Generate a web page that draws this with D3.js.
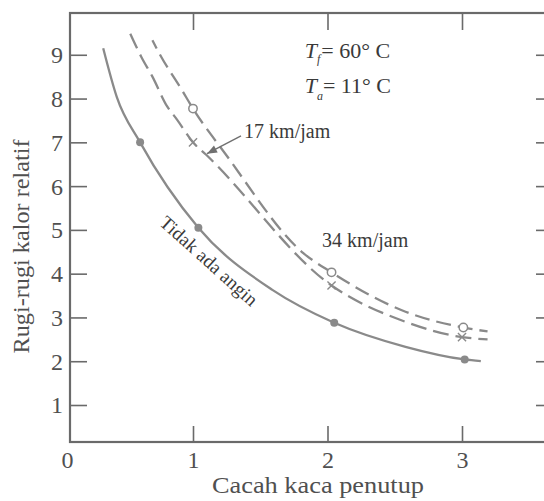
<!DOCTYPE html>
<html>
<head>
<meta charset="utf-8">
<script src="https://cdn.jsdelivr.net/npm/d3@7"></script>
<style>
  html, body { margin: 0; padding: 0; background: #ffffff; }
  svg { display: block; }
  text { font-family: "Liberation Serif", "Times New Roman", serif; }
</style>
</head>
<body>
<svg id="chart" width="544" height="501"></svg>
<script>
// ---- data ----
const xTicks = [0, 1, 2, 3];
const yTicks = [1, 2, 3, 4, 5, 6, 7, 8, 9];

// "Tidak ada angin" (no wind) - solid line, filled dots
const noWindX = [0.27, 0.38, 0.57, 1.04, 1.59, 2.05, 2.58, 3.02, 3.14];
const noWindY = [9.15, 8.04, 7.0, 5.05, 3.63, 2.88, 2.33, 2.04, 2.0];
const noWindDotsX = [0.57, 1.04, 2.05, 3.02];
const noWindDotsY = [7.0, 5.05, 2.88, 2.04];

// 17 km/jam - dashed, x marks
const wind17X = [0.49, 0.58, 0.67, 0.79, 0.87, 1.0, 1.10, 2.03, 2.58, 3.0, 3.19];
const wind17Y = [9.48, 8.95, 8.5, 7.82, 7.52, 7.0, 6.71, 3.73, 2.9, 2.55, 2.5];
const wind17MarksX = [1.0, 2.03, 3.0];
const wind17MarksY = [7.0, 3.73, 2.55];

// 34 km/jam - dashed, open circles
const wind34X = [0.67, 0.74, 0.90, 1.0, 1.24, 1.82, 2.03, 2.58, 3.01, 3.19];
const wind34Y = [9.33, 8.96, 8.24, 7.77, 6.74, 4.47, 4.03, 3.13, 2.77, 2.68];
const wind34MarksX = [1.0, 2.03, 3.01];
const wind34MarksY = [7.77, 4.03, 2.77];

(function () {
// ---- layout ----
const svg = d3.select("#chart");
const mLeft = 70, mRight = 553, mTop = 13, mBottom = 442;
const x = d3.scaleLinear().domain([0, 1, 3]).range([mLeft, 193, 462]);
const y = d3.scaleLinear().domain([0, 1, 10]).range([mBottom, 405, 11]);

const axisColor = "#6a6a6a";
const curveColor = "#8a8a8a";
const textColor = "#3a3a3a";
const labelColor = "#505050";
const serif = "'Liberation Serif', 'Times New Roman', serif";

// frame
svg.append("rect")
  .attr("x", mLeft).attr("y", mTop)
  .attr("width", mRight - mLeft).attr("height", mBottom - mTop)
  .attr("fill", "none").attr("stroke", axisColor).attr("stroke-width", 2.2);

// left axis with inward ticks
const gLeft = svg.append("g").attr("transform", `translate(${mLeft},0)`)
  .call(d3.axisLeft(y).tickValues(yTicks).tickSize(-17).tickPadding(7).tickFormat(d3.format("d")));
// bottom axis
const gBottom = svg.append("g").attr("transform", `translate(0,${mBottom})`)
  .call(d3.axisBottom(x).tickValues(xTicks).tickSize(-16).tickPadding(10).tickFormat(d3.format("d")));
// top ticks
const gTop = svg.append("g").attr("transform", `translate(0,${mTop})`)
  .call(d3.axisTop(x).tickValues(xTicks.filter(d => d > 0)).tickSize(-17).tickFormat(""));
// right ticks
const gRight = svg.append("g").attr("transform", `translate(${mRight},0)`)
  .call(d3.axisRight(y).tickValues(yTicks).tickSize(-17).tickFormat(""));

[gLeft, gBottom, gTop, gRight].forEach(g => {
  g.attr("font-family", serif);
  g.select(".domain").remove();
  g.selectAll(".tick line").attr("stroke", axisColor).attr("stroke-width", 1.6);
  g.selectAll(".tick text").attr("fill", labelColor).style("font-size", "24px")
    .style("font-family", serif);
});
gLeft.selectAll(".tick text").attr("dy", "0.33em");
gBottom.selectAll(".tick text").attr("dy", "0.66em");
gBottom.selectAll(".tick").filter(d => d === 0).select("line").remove();
gBottom.selectAll(".tick").filter(d => d === 0).select("text").attr("x", -3);

// axis titles
svg.append("text")
  .attr("transform", `translate(29,${(mTop + mBottom) / 2 + 19}) rotate(-90)`)
  .attr("text-anchor", "middle")
  .attr("fill", labelColor)
  .style("font-size", "23px")
  .attr("textLength", 214).attr("lengthAdjust", "spacingAndGlyphs")
  .text("Rugi-rugi kalor relatif");
svg.append("text")
  .attr("x", 318).attr("y", 493)
  .attr("text-anchor", "middle")
  .attr("fill", labelColor)
  .style("font-size", "23px")
  .attr("textLength", 212).attr("lengthAdjust", "spacingAndGlyphs")
  .text("Cacah kaca penutup");

// curves
const line = d3.line().x(d => x(d[0])).y(d => y(d[1])).curve(d3.curveMonotoneX);
const zip = (a, b) => a.map((v, i) => [v, b[i]]);

svg.append("path").datum(zip(noWindX, noWindY))
  .attr("d", line).attr("fill", "none")
  .attr("stroke", curveColor).attr("stroke-width", 2.3);
svg.append("path").datum(zip(wind17X, wind17Y))
  .attr("d", line).attr("fill", "none")
  .attr("stroke", curveColor).attr("stroke-width", 2.3)
  .attr("stroke-dasharray", "16,7");
svg.append("path").datum(zip(wind34X, wind34Y))
  .attr("d", line).attr("fill", "none")
  .attr("stroke", curveColor).attr("stroke-width", 2.3)
  .attr("stroke-dasharray", "15,7").attr("stroke-dashoffset", 6);

// markers
svg.selectAll("circle.dot").data(zip(noWindDotsX, noWindDotsY)).enter()
  .append("circle").attr("class", "dot")
  .attr("cx", d => x(d[0])).attr("cy", d => y(d[1])).attr("r", 4)
  .attr("fill", curveColor);
svg.selectAll("circle.open").data(zip(wind34MarksX, wind34MarksY)).enter()
  .append("circle").attr("class", "open")
  .attr("cx", d => x(d[0])).attr("cy", d => y(d[1])).attr("r", 4.2)
  .attr("fill", "#ffffff").attr("stroke", curveColor).attr("stroke-width", 1.5);
const cross = d3.symbol().type(d3.symbolX).size(45);
svg.selectAll("path.cross").data(zip(wind17MarksX, wind17MarksY)).enter()
  .append("path").attr("class", "cross")
  .attr("d", cross)
  .attr("transform", d => `translate(${x(d[0])},${y(d[1])})`)
  .attr("fill", "none").attr("stroke", curveColor).attr("stroke-width", 1.4);

// annotations
const tf = svg.append("text").attr("x", x(1.83)).attr("y", y(8.93))
  .attr("fill", textColor).style("font-size", "22px");
tf.append("tspan").style("font-style", "italic").text("T");
tf.append("tspan").style("font-style", "italic").style("font-size", "12px").attr("dy", 5).text("f");
tf.append("tspan").attr("dy", -5).attr("dx", 1).text("= 60\u00B0 C");
const ta = svg.append("text").attr("x", x(1.83)).attr("y", y(8.13))
  .attr("fill", textColor).style("font-size", "22px");
ta.append("tspan").style("font-style", "italic").text("T");
ta.append("tspan").style("font-style", "italic").style("font-size", "12px").attr("dy", 7).text("a");
ta.append("tspan").attr("dy", -7).attr("dx", 0).text("= 11\u00B0 C");

svg.append("text").attr("x", x(1.38)).attr("y", y(7.10))
  .attr("fill", textColor).style("font-size", "20px").text("17 km/jam");
svg.append("text").attr("x", x(1.96)).attr("y", y(4.61))
  .attr("fill", textColor).style("font-size", "20px").text("34 km/jam");

// arrow for 17 km/jam
const ax0 = x(1.357), ay0 = y(7.15), ax1 = x(1.104), ay1 = y(6.74);
svg.append("line").attr("x1", ax0).attr("y1", ay0).attr("x2", ax1).attr("y2", ay1)
  .attr("stroke", "#707070").attr("stroke-width", 1.4);
const ang = Math.atan2(ay1 - ay0, ax1 - ax0);
const hl = 10, hw = 4;
const hp = [
  [ax1, ay1],
  [ax1 - hl * Math.cos(ang) + hw * Math.sin(ang), ay1 - hl * Math.sin(ang) - hw * Math.cos(ang)],
  [ax1 - hl * Math.cos(ang) - hw * Math.sin(ang), ay1 - hl * Math.sin(ang) + hw * Math.cos(ang)]
];
svg.append("polygon").attr("points", hp.map(p => p.join(",")).join(" "))
  .attr("fill", "#707070");

// "Tidak ada angin" along the curve
svg.append("text")
  .attr("transform", `translate(${x(0.72)},${y(5.13)}) rotate(42)`)
  .attr("fill", textColor).style("font-size", "19px")
  .attr("textLength", 124).attr("lengthAdjust", "spacing")
  .text("Tidak ada angin");
})();
</script>
</body>
</html>
